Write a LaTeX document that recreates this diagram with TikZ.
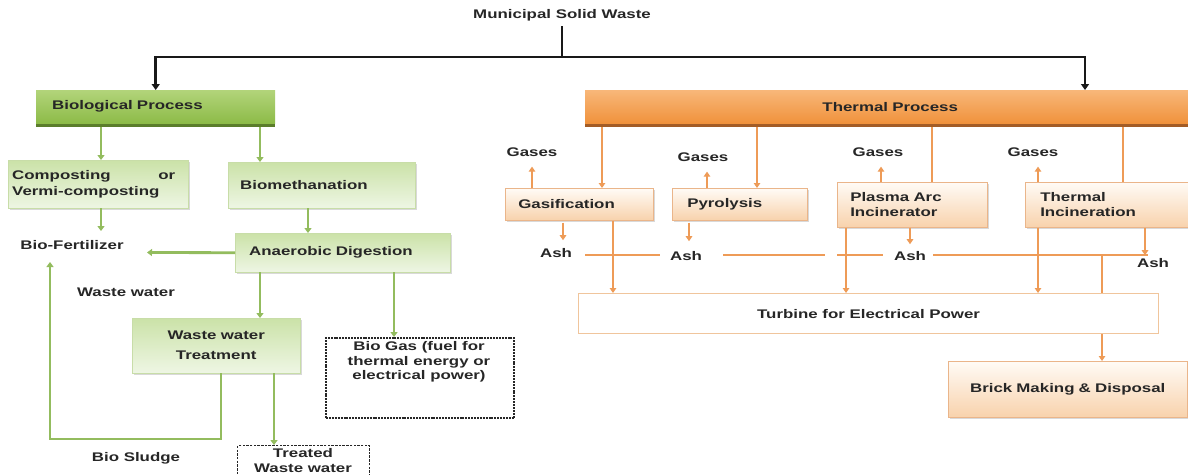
\documentclass[tikz,border=0pt]{standalone}
\usepackage{fontspec}
\setmainfont{Liberation Sans}[FakeStretch=1.35]
\usetikzlibrary{arrows.meta,shadows,calc}
\definecolor{txt}{HTML}{262626}
\definecolor{gTop}{HTML}{CBE2A8}
\definecolor{gBot}{HTML}{EEF6E4}
\definecolor{gEdge}{HTML}{C8DDA8}
\definecolor{bgTop}{HTML}{B2D47A}
\definecolor{bgBot}{HTML}{8DBB48}
\definecolor{bgSh}{HTML}{5B7D2B}
\definecolor{thTop}{HTML}{F8B779}
\definecolor{thBot}{HTML}{F0923C}
\definecolor{thSh}{HTML}{A35C26}
\definecolor{oTop}{HTML}{FFFBF6}
\definecolor{oBot}{HTML}{F8D2AC}
\definecolor{oEdge}{HTML}{EAB58A}
\definecolor{gLine}{HTML}{93BC5E}
\definecolor{oLine}{HTML}{EE9B57}
\definecolor{turEdge}{HTML}{F0C59C}
\newcommand\mylbl{\fontsize{12.5}{15}\selectfont\bfseries}
\begin{document}
\begin{tikzpicture}[x=1pt,y=-1pt,
  lbl/.style={font=\mylbl,text=txt,inner sep=0pt},
  boxbase/.style={anchor=north west,inner ysep=0pt,font=\mylbl,text=txt,align=left},
  gbox/.style={boxbase,top color=gTop,bottom color=gBot,draw=gEdge,line width=0.4pt,
    drop shadow={shadow xshift=2pt,shadow yshift=-2pt,fill=black,opacity=0.15}},
  obox/.style={boxbase,top color=oTop,bottom color=oBot,draw=oEdge,line width=0.5pt,
    drop shadow={shadow xshift=2pt,shadow yshift=-2pt,fill=black,opacity=0.15}},
  biggbox/.style={boxbase,top color=bgTop,bottom color=bgBot,
    drop shadow={shadow xshift=0pt,shadow yshift=-4pt,fill=bgSh,opacity=1}},
  bigobox/.style={boxbase,top color=thTop,bottom color=thBot,
    drop shadow={shadow xshift=0pt,shadow yshift=-4pt,fill=thSh,opacity=1}},
  dbox/.style={anchor=north west,draw=black!85,fill=white},
  bline/.style={draw=black!90,line width=2.8pt},
  barrow/.style={bline,-{Triangle[width=8pt,length=6pt]}},
  gline/.style={draw=gLine,line width=2.8pt},
  garrow/.style={gline,-{Triangle[width=7pt,length=5pt]}},
  oline/.style={draw=oLine,line width=2.4pt},
  oarrow/.style={oline,-{Triangle[width=6.5pt,length=5pt]}}
]
\useasboundingbox (0,0) rectangle (1188,474);
\clip (0,0) rectangle (1188,474);
\fill[white] (0,0) rectangle (1188,474);

% ---------- top ----------
\node[lbl] (title) at (562,15) {Municipal Solid Waste};

% ---------- biological side ----------
\node[biggbox,minimum width=239pt,minimum height=33pt,text width=207pt,inner xsep=16pt] (bio) at (36,90) {Biological Process};
\node[gbox,minimum width=180pt,minimum height=48pt,text width=172pt,inner xsep=4pt] (comp) at (8,160)
  {\makebox[163pt]{Composting\hfill or}\\[1pt]Vermi-composting};
\node[gbox,minimum width=187pt,minimum height=46pt,text width=163pt,inner xsep=12pt] (bmeth) at (228,162) {Biomethanation};
\node[gbox,minimum width=215pt,minimum height=39pt,text width=187pt,inner xsep=14pt] (ad) at (235,233) {Anaerobic Digestion};
\node[gbox,minimum width=168pt,minimum height=55pt,text width=158pt,inner xsep=5pt,align=center] (wwt) at (132,318) {Waste water\\[5pt]Treatment};
\node[dbox,line width=2.2pt,dash pattern=on 2pt off 0.9pt,minimum width=188pt,minimum height=80pt] (biogas) at (325,337) {};
\node[lbl,anchor=north,align=center,font=\fontsize{12.5}{14.5}\selectfont\bfseries] (bgt) at (419,341.5) {Bio Gas (fuel for\\thermal energy or\\electrical power)};
\node[dbox,line width=1.4pt,dash pattern=on 2.5pt off 1.2pt,minimum width=132pt,minimum height=80pt] (treated) at (237,445) {};
\node[lbl,anchor=north,align=center] (trt) at (303,448) {Treated\\Waste water};
\node[lbl] (biofert) at (72,245) {Bio-Fertilizer};
\node[lbl] (wwl) at (126,292) {Waste water};
\node[lbl] (sludge) at (136,458) {Bio Sludge};

% ---------- thermal side ----------
\node[bigobox,minimum width=610pt,minimum height=33pt,text width=580pt,inner xsep=15pt,align=center,text=black!85] (thermal) at (585,90) {Thermal Process};
\node[obox,minimum width=148pt,minimum height=32pt,text width=122pt,inner xsep=13pt] (gas) at (505,188) {Gasification};
\node[obox,minimum width=135pt,minimum height=32pt,text width=105pt,inner xsep=15pt] (pyr) at (672,188) {Pyrolysis};
\node[obox,minimum width=150pt,minimum height=45pt,text width=124pt,inner xsep=13pt] (pla) at (837,182) {Plasma Arc\\Incinerator};
\node[obox,minimum width=175pt,minimum height=45pt,text width=145pt,inner xsep=15pt] (tin) at (1025,182) {Thermal\\Incineration};
\node[lbl] (g1) at (532,152) {Gases};
\node[lbl] (g2) at (703,157) {Gases};
\node[lbl] (g3) at (878,152) {Gases};
\node[lbl] (g4) at (1033,152) {Gases};
\node[lbl] (ash1) at (556,253) {Ash};
\node[lbl] (ash2) at (686,256) {Ash};
\node[lbl] (ash3) at (910,256) {Ash};
\node[lbl] (ash4) at (1153,263) {Ash};
\node[anchor=north west,draw=turEdge,line width=1.2pt,fill=white,minimum width=580pt,minimum height=40pt,font=\mylbl,text=txt] (tur) at (578,293) {Turbine for Electrical Power};
\node[obox,minimum width=239pt,minimum height=56pt,text width=225pt,inner xsep=7pt,align=center] (brk) at (948,361) {Brick Making \& Disposal};

% ---------- black connectors ----------
\coordinate (j) at (562,57);
\draw[bline] ([yshift=-5pt]title.south) -- (j);
\draw[barrow] (j) -| (bio.north);
\draw[barrow] (j) -| ($(thermal.north west)+(500,0)$);

% ---------- green connectors ----------
\coordinate (bfa) at (101,231);
\coordinate (bfr) at (147,252.5);
\coordinate (bfu) at (50,262);
\coordinate (sb) at (50,439);
\draw[garrow] ($(bio.south west)+(65,4)$) -- ($(comp.north west)+(93,0)$);
\draw[garrow] ($(bio.south west)+(224,4)$) -- ($(bmeth.north west)+(32,0)$);
\draw[garrow] ($(comp.south west)+(93,0)$) -- (bfa);
\draw[garrow] ($(bmeth.south west)+(80,0)$) -- ($(ad.north west)+(73,0)$);
\draw[garrow] (ad.west) -- (bfr);
\draw[garrow] ($(ad.south west)+(25,0)$) -- ($(wwt.north west)+(128,0)$);
\draw[garrow] ($(ad.south west)+(159,0)$) -- ($(biogas.north west)+(69,0)$);
\draw[garrow] ($(wwt.south west)+(142,0)$) -- ($(treated.north west)+(37,0)$);
\draw[garrow] ($(wwt.south west)+(89,0)$) |- (sb) -- (bfu);

% ---------- orange connectors ----------
\draw[oarrow] ($(thermal.south west)+(17,4)$) -- ($(gas.north west)+(97,0)$);
\draw[oarrow] ($(thermal.south west)+(172,4)$) -- ($(pyr.north west)+(85,0)$);
\draw[oline] ($(thermal.south west)+(347,4)$) -- ($(pla.north west)+(95,0)$);
\draw[oline] ($(thermal.south west)+(538,4)$) -- ($(tin.north west)+(98,0)$);
\draw[oarrow] (gas.north -| g1.south) -- ([yshift=-10pt]g1.south);
\draw[oarrow] ($(pyr.north west)+(35,0)$) -- ($(g2.south)+(4,10)$);
\draw[oarrow] ($(pla.north west)+(44,0)$) -- ($(g3.south)+(3,10)$);
\draw[oarrow] ($(tin.north west)+(13,0)$) -- ($(g4.south)+(5,10)$);
\draw[oarrow] ($(gas.south west)+(58,2)$) -- ($(ash1.north)+(7,-8)$);
\draw[oarrow] ($(pyr.south west)+(17,2)$) -- ($(ash2.north)+(3,-10)$);
\draw[oarrow] (pla.south -| ash3.north) -- ([yshift=7pt]ash3.north);
\draw[oarrow] ($(tin.south west)+(120,0)$) -- ($(ash4.north)+(-8,-3)$);
\coordinate (ag) at (825,255);
\coordinate (ah) at (837,255);
\coordinate (aj) at (1102,255);
\coordinate (ak) at (1148,255);
\draw[oline] ([xshift=13pt]ash1.east |- ag) -- ([xshift=-10pt]ash2.west |- ag);
\draw[oline] ([xshift=21pt]ash2.east |- ag) -- (ag);
\draw[oline] (ah) -- ([xshift=-11pt]ash3.west |- ah);
\draw[oline] ([xshift=7pt]ash3.east |- ak) -- (ak);
\draw[oarrow] ($(gas.south west)+(108,0)$) -- ($(tur.north west)+(35,0)$);
\draw[oarrow] ($(pla.south west)+(9,0)$) -- ($(tur.north west)+(268,0)$);
\draw[oarrow] ($(tin.south west)+(13,0)$) -- ($(tur.north west)+(460,0)$);
\draw[oline] (aj) -- ($(tur.north west)+(524,0)$);
\draw[oarrow] ($(tur.south west)+(524,0)$) -- ($(brk.north west)+(154,0)$);
\end{tikzpicture}
\end{document}
